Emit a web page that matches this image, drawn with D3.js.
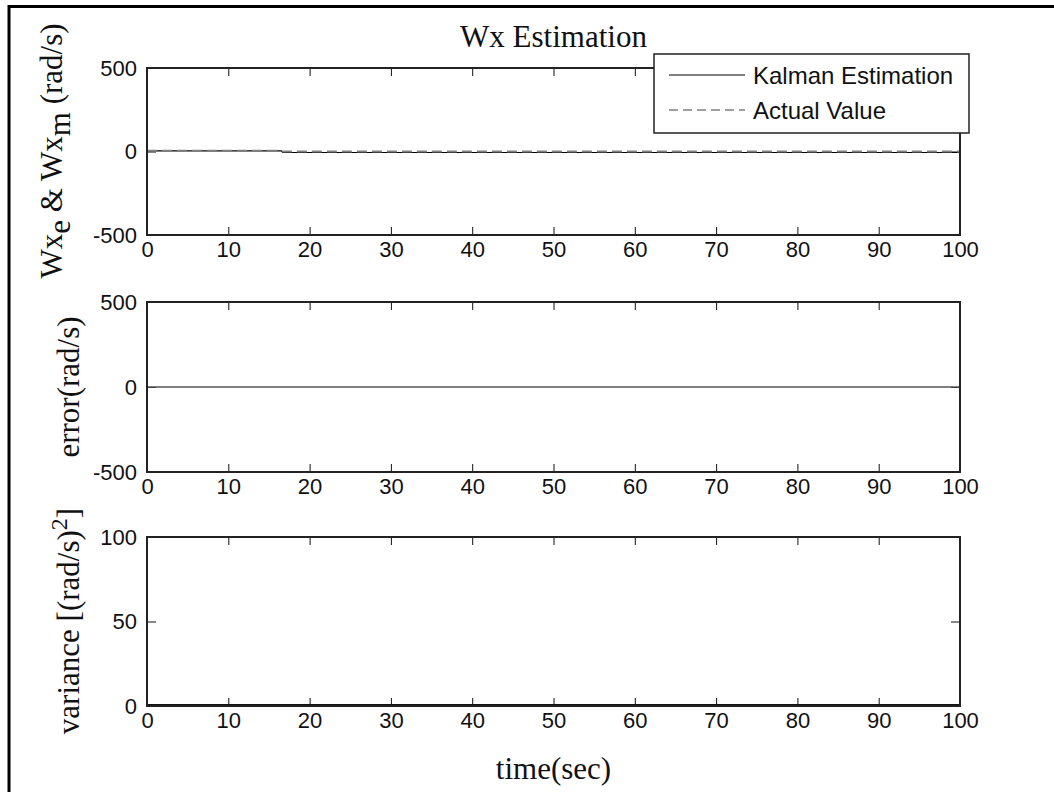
<!DOCTYPE html>
<html>
<head>
<meta charset="utf-8">
<script src="https://cdn.jsdelivr.net/npm/d3@7"></script>
<style>
  html, body { margin: 0; padding: 0; background: #fff; }
  svg { display: block; }
</style>
</head>
<body>
<svg id="fig" width="1054" height="792"></svg>
<script>
// Time breakpoints (s) and the signals sampled at them
const time       = [0, 16.5, 16.7, 100];
const kalmanEst  = [4, 4, -6, -6];      // Wx_e (rad/s)
const actualVal  = [4, 4, 0, 0];        // Wx_m (rad/s)
const errorVal   = [0, 0, 0, 0];        // error (rad/s)
const varianceVal = [0.9, 0.9, 0.9, 0.9]; // variance (rad/s)^2

const xTicks = [0, 10, 20, 30, 40, 50, 60, 70, 80, 90, 100];
const yTicksTop = [-500, 0, 500];
const yTicksMid = [-500, 0, 500];
const yTicksBot = [0, 50, 100];
const legendLabels = ["Kalman Estimation", "Actual Value"];

const svg = d3.select("#fig");
const W = 1054, H = 792;

// figure frame (clipped on the right and bottom)
svg.append("line").attr("x1", 9).attr("x2", W + 5).attr("y1", 6.5).attr("y2", 6.5)
  .attr("stroke", "#000").attr("stroke-width", 3);
svg.append("line").attr("x1", 9).attr("x2", 9).attr("y1", 5).attr("y2", H + 5)
  .attr("stroke", "#000").attr("stroke-width", 3);

const left = 147, right = 960;
const x = d3.scaleLinear().domain([0, 100]).range([left, right]);

const panels = [
  { top: 68, bottom: 235, domain: [-500, 500], ticks: yTicksTop },
  { top: 302, bottom: 472, domain: [-500, 500], ticks: yTicksMid },
  { top: 537, bottom: 706, domain: [0, 100], ticks: yTicksBot }
];

const tickFont = "'Liberation Sans', Arial, sans-serif";
const serif = "'Liberation Serif', 'Times New Roman', serif";
// plain hyphen for negative numbers
const fmt = d => String(d);

function styleAxis(g, showText) {
  g.select(".domain").remove();
  g.selectAll(".tick line").attr("stroke", "#111").attr("stroke-width", 1);
  g.selectAll(".tick text").attr("fill", "#111")
    .style("font-family", tickFont).style("font-size", "22px");
  if (!showText) g.selectAll(".tick text").remove();
}

panels.forEach(p => {
  p.y = d3.scaleLinear().domain(p.domain).range([p.bottom, p.top]);
  const g = svg.append("g");
  g.append("g").attr("transform", `translate(0,${p.bottom})`)
    .call(d3.axisBottom(x).tickValues(xTicks).tickFormat(fmt).tickSize(-8).tickSizeOuter(0).tickPadding(6))
    .call(a => styleAxis(a, true));
  g.append("g").attr("transform", `translate(0,${p.top})`)
    .call(d3.axisTop(x).tickValues(xTicks).tickSize(-8).tickSizeOuter(0))
    .call(a => styleAxis(a, false));
  g.append("g").attr("transform", `translate(${left},0)`)
    .call(d3.axisLeft(p.y).tickValues(p.ticks).tickFormat(fmt).tickSize(-9).tickSizeOuter(0).tickPadding(10))
    .call(a => styleAxis(a, true));
  g.append("g").attr("transform", `translate(${right},0)`)
    .call(d3.axisRight(p.y).tickValues(p.ticks).tickSize(-9).tickSizeOuter(0))
    .call(a => styleAxis(a, false));
  p.g = g;
});

function series(p, vals) {
  return d3.line().x((d, i) => x(time[i])).y(d => p.y(d))(vals);
}

// top panel: estimate vs actual
const p0 = panels[0];
p0.g.append("path").attr("d", series(p0, kalmanEst))
  .attr("fill", "none").attr("stroke", "#000").attr("stroke-width", 1.2);
p0.g.append("path").attr("d", series(p0, actualVal))
  .attr("fill", "none").attr("stroke", "#808080").attr("stroke-width", 2)
  .attr("stroke-dasharray", "10,5");

// middle panel: error
const p1 = panels[1];
p1.g.append("path").attr("d", series(p1, errorVal))
  .attr("fill", "none").attr("stroke", "#555").attr("stroke-width", 1.6);

// bottom panel: variance
const p2 = panels[2];
p2.g.append("path").attr("d", series(p2, varianceVal))
  .attr("fill", "none").attr("stroke", "#111").attr("stroke-width", 1.2);

// axes boxes drawn on top of the data
panels.forEach(p => {
  svg.append("rect").attr("x", left).attr("y", p.top)
    .attr("width", right - left).attr("height", p.bottom - p.top)
    .attr("fill", "none").attr("stroke", "#222").attr("stroke-width", 2);
});

// title
svg.append("text").attr("x", (left + right) / 2).attr("y", 47)
  .attr("text-anchor", "middle").style("font-family", serif).style("font-size", "31px")
  .attr("fill", "#111").text("Wx Estimation");

// y labels
function yLabel(cx, cy, build) {
  const t = svg.append("text")
    .attr("transform", `translate(${cx},${cy}) rotate(-90)`)
    .attr("text-anchor", "middle").style("font-family", serif).style("font-size", "31px")
    .attr("fill", "#111");
  build(t);
}
yLabel(62, 151, t => {
  t.append("tspan").text("Wx");
  t.append("tspan").attr("dy", 8).text("e");
  t.append("tspan").attr("dy", -8).text(" & Wx");
  t.append("tspan").attr("dy", 8).text("m");
  t.append("tspan").attr("dy", -8).text(" (rad/s)");
});
yLabel(79, 387, t => t.text("error(rad/s)"));
yLabel(79, 621, t => {
  t.append("tspan").text("variance [(rad/s)");
  t.append("tspan").attr("dy", -12).style("font-size", "24px").text("2");
  t.append("tspan").attr("dy", 12).text("]");
});

// x label
svg.append("text").attr("x", (left + right) / 2).attr("y", 779)
  .attr("text-anchor", "middle").style("font-family", serif).style("font-size", "31px")
  .attr("fill", "#111").text("time(sec)");

// legend
const lg = svg.append("g");
lg.append("rect").attr("x", 654).attr("y", 54).attr("width", 315).attr("height", 79)
  .attr("fill", "#fff").attr("stroke", "#222").attr("stroke-width", 1.5);
const rows = [
  { y: 75, stroke: "#000", w: 1.2, dash: null },
  { y: 110, stroke: "#808080", w: 1.6, dash: "9,5" }
];
rows.forEach((r, i) => {
  lg.append("line").attr("x1", 669).attr("x2", 745).attr("y1", r.y).attr("y2", r.y)
    .attr("stroke", r.stroke).attr("stroke-width", r.w)
    .attr("stroke-dasharray", r.dash);
  lg.append("text").attr("x", 753).attr("y", r.y + 9)
    .style("font-family", tickFont).style("font-size", "24px").attr("fill", "#111")
    .text(legendLabels[i]);
});
</script>
</body>
</html>
